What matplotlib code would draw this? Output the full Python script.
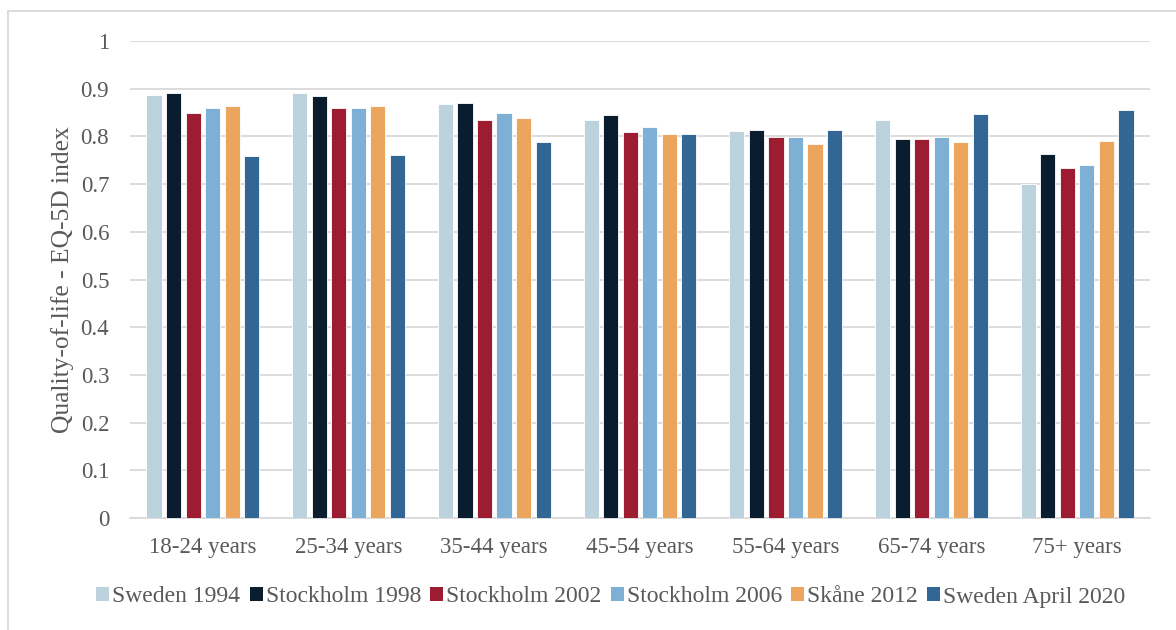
import matplotlib
matplotlib.use("Agg")
import matplotlib.pyplot as plt
from matplotlib.patches import Patch
from matplotlib.lines import Line2D
import numpy as np

categories = ["18-24 years", "25-34 years", "35-44 years", "45-54 years",
              "55-64 years", "65-74 years", "75+ years"]
series_names = ["Sweden 1994", "Stockholm 1998", "Stockholm 2002",
                "Stockholm 2006", "Skåne 2012", "Sweden April 2020"]
sweden_1994 = [0.887, 0.892, 0.867, 0.834, 0.811, 0.835, 0.700]
stockholm_1998 = [0.890, 0.885, 0.870, 0.845, 0.814, 0.794, 0.764]
stockholm_2002 = [0.849, 0.860, 0.834, 0.809, 0.799, 0.794, 0.734]
stockholm_2006 = [0.860, 0.860, 0.849, 0.819, 0.799, 0.799, 0.739]
skane_2012 = [0.864, 0.864, 0.839, 0.805, 0.784, 0.789, 0.790]
sweden_april_2020 = [0.758, 0.762, 0.789, 0.806, 0.814, 0.848, 0.855]
yticks = [0, 0.1, 0.2, 0.3, 0.4, 0.5, 0.6, 0.7, 0.8, 0.9, 1]
ytick_labels = ["0", "0.1", "0.2", "0.3", "0.4", "0.5", "0.6", "0.7", "0.8", "0.9", "1"]

series = [sweden_1994, stockholm_1998, stockholm_2002,
          stockholm_2006, skane_2012, sweden_april_2020]
colors = ["#bcd2dd", "#0a1d2f", "#9d1c31", "#7eb0d6", "#eba55c", "#326795"]

plt.rcParams["font.family"] = ["Liberation Serif", "DejaVu Serif"]
text_color = "#595959"

fig = plt.figure(figsize=(11.76, 6.30), dpi=100)
W, H = 1176, 630
ax = fig.add_axes([130 / W, 1 - 518 / H, 1020 / W, 477 / H])

x = np.arange(len(categories))
step = 0.134
width = 0.104
for i, (vals, col) in enumerate(zip(series, colors)):
    offs = (i - 2.5) * step
    ax.bar(x + offs, vals, width=width, color=col, edgecolor="white",
           linewidth=0.6, zorder=3)

ax.set_xlim(-0.5, len(categories) - 0.5)
ax.set_ylim(0, 1)
ax.set_yticks(yticks)
ax.set_yticklabels(ytick_labels)
ax.set_xticks(x)
ax.set_xticklabels(categories)
ax.grid(axis="y", color="#d9d9d9", linewidth=1.3, zorder=0)
for s in ["top", "right", "left"]:
    ax.spines[s].set_visible(False)
ax.spines["bottom"].set_color("#d9d9d9")
ax.spines["bottom"].set_linewidth(1.3)
ax.tick_params(axis="both", length=0, colors=text_color, labelsize=16.5)
ax.tick_params(axis="y", pad=15)
ax.tick_params(axis="x", pad=14)
ax.set_ylabel("Quality-of-life - EQ-5D index", fontsize=18.4, color=text_color,
              labelpad=5)

handles = [Patch(facecolor=c, edgecolor="none") for c in colors]
fig.legend(handles, series_names, loc="center", bbox_to_anchor=(611 / W, 1 - 597 / H),
           ncol=6, frameon=False, fontsize=17, handlelength=0.55, handleheight=0.55,
           handletextpad=0.12, columnspacing=0.4, labelcolor=text_color)

# outer frame
fig.add_artist(Line2D([8 / W, 1.0], [1 - 11 / H, 1 - 11 / H], transform=fig.transFigure,
                      color="#d9d9d9", linewidth=1.3))
fig.add_artist(Line2D([8 / W, 8 / W], [0, 1 - 11 / H], transform=fig.transFigure,
                      color="#d9d9d9", linewidth=1.3))

fig.savefig("out.png", dpi=100, facecolor="white")
